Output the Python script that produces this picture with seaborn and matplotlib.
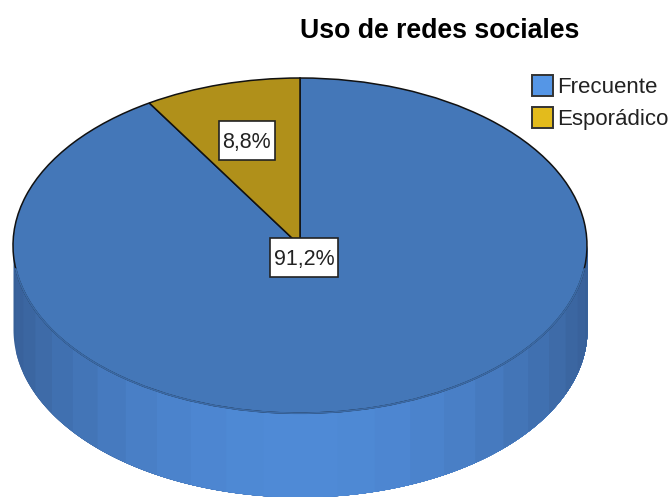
import numpy as np
import matplotlib
matplotlib.use("Agg")
import matplotlib.pyplot as plt
import matplotlib.patches as mpatches
import seaborn as sns

title = "Uso de redes sociales"
categories = ["Frecuente", "Esporádico"]
values = [91.2, 8.8]
value_labels = ["91,2%", "8,8%"]

sns.set_theme(style="white")
plt.rcParams["font.family"] = ["Liberation Sans", "DejaVu Sans"]

W, H = 670, 497
fig = plt.figure(figsize=(W / 100, H / 100), dpi=100, facecolor="white")
ax = fig.add_axes([13 / W, 0, 574 / W, 419 / H])

top_colors = sns.color_palette(["#4477b8", "#b0901a"])
legend_colors = sns.color_palette(["#5596e6", "#e3bb1c"])
side_dark = np.array(matplotlib.colors.to_rgb("#375f97"))
side_light = np.array(matplotlib.colors.to_rgb("#4f8ad6"))
depth = 0.5

# side wall of the disc: bands painted left to right, each one running on under the next
edges = np.deg2rad(np.arange(0, 180.1, 7.5))
for a0, a1 in zip(edges[:-1], edges[1:]):
    t = np.linspace(a0, np.pi, 200)
    x = -np.cos(t)
    y = -np.sin(t)
    k = np.sin((a0 + a1) / 2) ** 1.6
    c = side_dark + (side_light - side_dark) * k
    ax.fill_between(x, y, y - depth, color=c, lw=0, zorder=1)

# top face
ax.pie(values, colors=top_colors, startangle=90, counterclock=False, radius=1,
       wedgeprops=dict(edgecolor="#111111", linewidth=1.1, zorder=2))
ax.set_aspect("auto")
ax.set_xlim(-1, 1)
ax.set_ylim(-1 - depth, 1)
ax.axis("off")

# soften the lower rim of the top face
t = np.linspace(np.deg2rad(8), np.deg2rad(172), 200)
ax.plot(-np.cos(t), -np.sin(t), color="#3b6aa6", lw=1.3, zorder=3)

# percentage labels in white boxes (box sizes in axis units of this stretched pie)
label_pos = [(0.014, -0.07), (-0.185, 0.63)]
box_sizes = [(68 / 287, 39 / 167.6), (56 / 287, 39 / 167.6)]
for (lx, ly), (bw, bh), txt in zip(label_pos, box_sizes, value_labels):
    ax.add_patch(mpatches.Rectangle((lx - bw / 2, ly - bh / 2), bw, bh, fc="white",
                                    ec="#222222", lw=1.2, zorder=4))
    ax.text(lx, ly, txt, ha="center", va="center_baseline", fontsize=15.5,
            color="#222222", zorder=5)

fig.text(440 / W, 1 - 31 / H, title, ha="center", va="center",
         fontsize=19.2, fontweight="bold", color="black")

handles = [mpatches.Patch(facecolor=c, edgecolor="#333333", linewidth=1.4) for c in legend_colors]
fig.legend(handles, categories, loc="upper left", bbox_to_anchor=(532 / W, 1 - 75 / H),
           borderaxespad=0, borderpad=0, frameon=False, fontsize=16, handlelength=0.95,
           handleheight=1.05, handletextpad=0.16, labelspacing=0.42, labelcolor="#222222")

fig.savefig("out.png", dpi=100, facecolor="white")
